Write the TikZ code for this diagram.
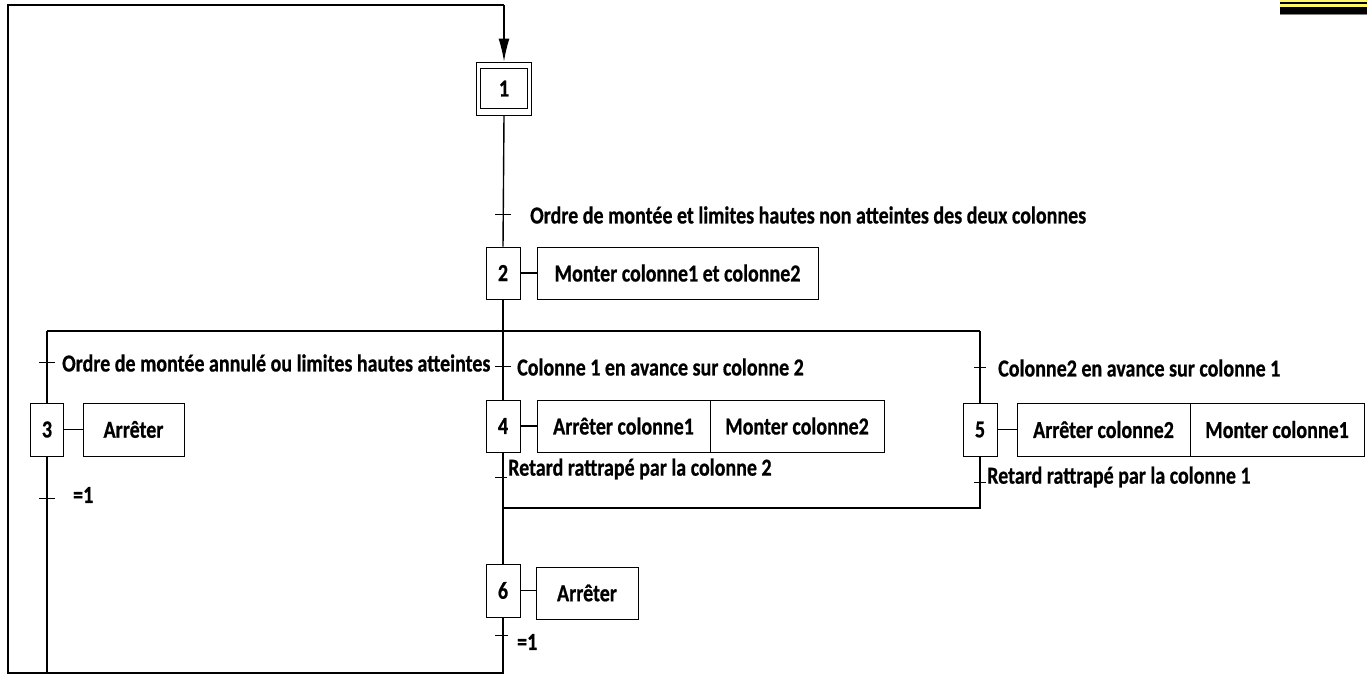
\documentclass[tikz,border=0pt]{standalone}
\usepackage{graphicx}
\usepackage{fontspec}
\setmainfont{Carlito}[BoldFeatures={FakeBold=0.8}]
\usetikzlibrary{arrows.meta}
\newcommand\tx[1]{\scalebox{1}[1.22]{#1}}
\begin{document}
\begin{tikzpicture}[x=1pt,y=-1pt,
  every node/.style={font=\fontsize{20}{22}\selectfont\bfseries, inner sep=0pt},
  stepbox/.style={draw, line width=0.9pt, minimum width=34pt, minimum height=52pt},
  actbox/.style={draw, line width=0.9pt, minimum height=52pt},
  lbl/.style={anchor=west},
  ln/.style={line width=1.4pt},
  tick/.style={line width=1pt}
]
\useasboundingbox (0,0) rectangle (1367,675);
% top-right decoration
\fill[yellow!60!white] (1280,0) rectangle (1367,6.5);
\draw[line width=1.2pt] (1280,3) -- (1367,3);
\fill[black] (1280,7) rectangle (1367,14);
\draw[gray, line width=0.8pt] (1280,14.5) -- (1367,14.5);

% steps
\node[draw, line width=0.9pt, minimum width=55pt, minimum height=53pt] (s1) at (504,88.5) {\tx{1}};
\node[draw, line width=0.9pt, minimum width=47pt, minimum height=40pt] (s1i) at (s1) {};
\node[stepbox] (s2) at (503,273) {\tx{2}};
\node[actbox, minimum width=281pt] (a2) at (677.5,273) {\tx{Monter colonne1 et colonne2}};
\node[stepbox, minimum width=33pt, minimum height=53pt] (s3) at (47,429.5) {\tx{3}};
\node[actbox, minimum width=101pt, minimum height=53pt] (a3) at (133.5,429.5) {\tx{Arrêter}};
\node[stepbox] (s4) at (503,426) {\tx{4}};
\node[actbox, minimum width=173pt] (a4a) at (623.5,426) {\tx{Arrêter colonne1}};
\node[actbox, minimum width=174pt] (a4b) at (797,426) {\tx{Monter colonne2}};
\node[stepbox, minimum height=53pt] (s5) at (980,429.5) {\tx{5}};
\node[actbox, minimum width=173pt, minimum height=53pt] (a5a) at (1103.5,429.5) {\tx{Arrêter colonne2}};
\node[actbox, minimum width=174pt, minimum height=53pt] (a5b) at (1277,429.5) {\tx{Monter colonne1}};
\node[stepbox, minimum height=53pt] (s6) at (503,590.5) {\tx{6}};
\node[actbox, minimum width=102pt] (a6) at (587,593) {\tx{Arrêter}};

% action links
\draw[ln] (s2.east) -- (a2.west);
\draw[ln] (s3.east) -- (a3.west);
\draw[ln] (s4.east) -- (a4a.west);
\draw[ln] (s5.east) -- (a5a.west);
\draw[ln] (s6.east) -- (s6.east -| a6.west);

% coordinates
\coordinate (dl) at (47,331);
\coordinate (dr) at (980,331);
\coordinate (cl) at (503,508);
\coordinate (cr) at (980,508);
\coordinate (b3) at (47,673);
\coordinate (b6) at (503,673);
\coordinate (b0) at (8,673);
\coordinate (t0) at (8,5);
\coordinate (tt) at (504,5);

% links
\draw[ln] (s1.south) -- (s2.north);
\draw[ln] (dl) -- (dr);
\draw[ln] (s2.south) -- (s4.north);
\draw[ln] (dl) -- (s3.north);
\draw[ln] (dr) -- (s5.north);
\draw[ln] (s3.south) -- (b3);
\draw[ln] (s4.south) -- (s6.north);
\draw[ln] (s5.south) -- (cr) -- (cl);
\draw[ln] (s6.south) -- (b6) -- (b0) -- (t0) -- (tt);
\draw[ln, -{Latex[length=23pt,width=11pt]}] (tt) -- (s1.north);

% transitions
\coordinate (t1) at (503,214);
\draw[tick] ([xshift=-8pt]t1) -- ([xshift=8pt]t1);
\node[lbl] (l1) at (530,215) {\tx{Ordre de montée et limites hautes non atteintes des deux colonnes}};

\coordinate (t3a) at (47,362);
\draw[tick] ([xshift=-8pt]t3a) -- ([xshift=8pt]t3a);
\node[lbl] (l3a) at (62,363) {\tx{Ordre de montée annulé ou limites hautes atteintes}};

\coordinate (t4a) at (503,366);
\draw[tick] ([xshift=-8pt]t4a) -- ([xshift=8pt]t4a);
\node[lbl] (l4a) at (517,367) {\tx{Colonne 1 en avance sur colonne 2}};

\coordinate (t5a) at (980,367);
\draw[tick] ([xshift=-6pt]t5a) -- ([xshift=6pt]t5a);
\node[lbl] (l5a) at (998,368) {\tx{Colonne2 en avance sur colonne 1}};

\coordinate (t3b) at (47,498);
\draw[tick] ([xshift=-8pt]t3b) -- ([xshift=8pt]t3b);
\node[lbl] (l3b) at (73,495) {\tx{=1}};

\coordinate (t4b) at (503,477);
\draw[tick] ([xshift=-8pt]t4b) -- ([xshift=4pt]t4b);
\node[lbl] (l4b) at (508,469) {\tx{Retard rattrapé par la colonne 2}};

\coordinate (t5b) at (980,482);
\draw[tick] ([xshift=-6pt]t5b) -- ([xshift=6pt]t5b);
\node[lbl] (l5b) at (987,477) {\tx{Retard rattrapé par la colonne 1}};

\coordinate (t6) at (503,635);
\draw[tick] ([xshift=-8pt]t6) -- ([xshift=5pt]t6);
\node[lbl] (l6) at (517,642) {\tx{=1}};
\end{tikzpicture}
\end{document}
